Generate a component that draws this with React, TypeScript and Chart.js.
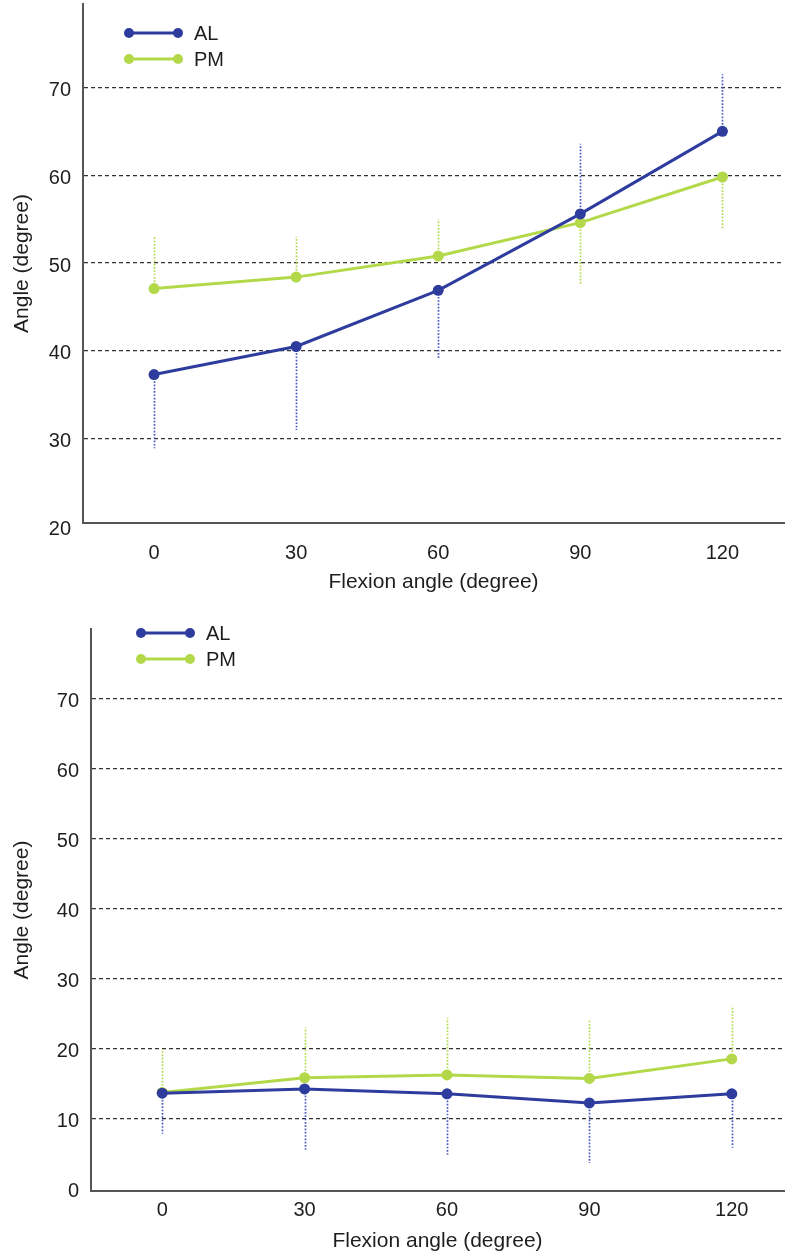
import React, { useEffect, useRef } from "react";
import { Chart, registerables } from "chart.js";

Chart.register(...registerables);

// ---------- data ----------
const FLEXION = [0, 30, 60, 90, 120];
const SERIES_LABELS = ["AL", "PM"];

const TOP_AL = [37.3, 40.5, 46.9, 55.6, 65.0];
const TOP_PM = [47.1, 48.4, 50.8, 54.6, 59.8];
const TOP_AL_ERR_END = [28.9, 31.0, 39.1, 63.6, 71.5];
const TOP_PM_ERR_END = [53.0, 53.0, 55.0, 47.5, 53.9];
const TOP_Y_TICKS = [20, 30, 40, 50, 60, 70];

const BOT_AL = [13.6, 14.2, 13.5, 12.2, 13.5];
const BOT_PM = [13.7, 15.8, 16.2, 15.7, 18.5];
const BOT_AL_ERR_END = [7.8, 5.5, 4.8, 3.6, 5.8];
const BOT_PM_ERR_END = [19.9, 23.0, 24.4, 24.1, 26.1];
const BOT_Y_TICKS = [0, 10, 20, 30, 40, 50, 60, 70];

const X_TITLE = "Flexion angle (degree)";
const Y_TITLE = "Angle (degree)";

// ---------- style ----------
const FONT = "'Liberation Sans', Arial, Helvetica, sans-serif";
const AL_COLOR = "#2e3d9d";
const PM_COLOR = "#b3d94a";
const AL_ERR_COLOR = "#4a5bc4";
const PM_ERR_COLOR = "#b2d94c";
const TEXT_COLOR = "#1e1e1e";
const AXIS_COLOR = "#555555";
const GRID_COLOR = "#333333";

const errorBarPlugin = {
  id: "errorBars",
  beforeDatasetsDraw(chart: any) {
    const { ctx, scales } = chart;
    const x = scales.x;
    const y = scales.y;
    chart.data.datasets.forEach((ds: any) => {
      const ends: number[] = ds.errEnds;
      if (!ends) return;
      ctx.save();
      ctx.strokeStyle = ds.errColor;
      ctx.lineWidth = 1.7;
      ctx.setLineDash([1.7, 1.6]);
      ds.data.forEach((pt: any, j: number) => {
        const px = Math.round(x.getPixelForValue(pt.x)) + 0.5;
        ctx.beginPath();
        ctx.moveTo(px, y.getPixelForValue(pt.y));
        ctx.lineTo(px, y.getPixelForValue(ends[j]));
        ctx.stroke();
      });
      ctx.restore();
    });
  },
};

const lineLegendPlugin = {
  id: "lineLegend",
  afterDraw(chart: any, _args: any, opts: any) {
    const { ctx, chartArea } = chart;
    ctx.save();
    chart.data.datasets.forEach((ds: any, i: number) => {
      const x0 = chartArea.left + opts.offsetX;
      const x1 = x0 + opts.lineLen;
      const yy = opts.y0 + i * opts.dy;
      ctx.strokeStyle = ds.borderColor;
      ctx.fillStyle = ds.borderColor;
      ctx.lineWidth = 3;
      ctx.beginPath();
      ctx.moveTo(x0, yy);
      ctx.lineTo(x1, yy);
      ctx.stroke();
      [x0, x1].forEach((cx) => {
        ctx.beginPath();
        ctx.arc(cx, yy, 5, 0, Math.PI * 2);
        ctx.fill();
      });
      ctx.fillStyle = TEXT_COLOR;
      ctx.font = `20px ${FONT}`;
      ctx.textBaseline = "middle";
      ctx.textAlign = "left";
      ctx.fillText(ds.label, x1 + opts.textGap, yy + 1);
    });
    ctx.restore();
  },
};

type PanelProps = {
  al: number[];
  pm: number[];
  alErr: number[];
  pmErr: number[];
  yTicks: number[];
  yMin: number;
  yMax: number;
  xMin: number;
  xMax: number;
  width: number;
  height: number;
  top: number;
  padTop: number;
  yAxisWidth: number;
  xAxisHeight: number;
  xTickPad: number;
  xTitlePad: number;
  yTitlePad: number;
  legendOffsetX: number;
};

function Panel(p: PanelProps) {
  const ref = useRef<HTMLCanvasElement | null>(null);
  useEffect(() => {
    if (!ref.current) return;
    const mk = (vals: number[]) => FLEXION.map((x, i) => ({ x, y: vals[i] }));
    const chart = new Chart(ref.current, {
      type: "line",
      data: {
        datasets: [
          {
            label: SERIES_LABELS[0],
            data: mk(p.al),
            borderColor: AL_COLOR,
            backgroundColor: AL_COLOR,
            borderWidth: 3,
            pointRadius: 5.5,
            pointBorderWidth: 0,
            pointBackgroundColor: AL_COLOR,
            tension: 0,
            errEnds: p.alErr,
            errColor: AL_ERR_COLOR,
          } as any,
          {
            label: SERIES_LABELS[1],
            data: mk(p.pm),
            borderColor: PM_COLOR,
            backgroundColor: PM_COLOR,
            borderWidth: 3,
            pointRadius: 5.5,
            pointBorderWidth: 0,
            pointBackgroundColor: PM_COLOR,
            tension: 0,
            errEnds: p.pmErr,
            errColor: PM_ERR_COLOR,
          } as any,
        ],
      },
      options: {
        responsive: false,
        animation: false,
        events: [],
        layout: { autoPadding: false, padding: { top: p.padTop, right: 1, bottom: 0, left: 0 } },
        plugins: {
          legend: { display: false },
          tooltip: { enabled: false },
          lineLegend: { offsetX: p.legendOffsetX, lineLen: 49, y0: 33, dy: 26, textGap: 16 },
        } as any,
        scales: {
          x: {
            type: "linear",
            min: p.xMin,
            max: p.xMax,
            afterBuildTicks: (s: any) => {
              s.ticks = FLEXION.map((v) => ({ value: v }));
            },
            afterFit: (s: any) => {
              s.height = p.xAxisHeight;
              s.paddingLeft = 0;
              s.paddingRight = 0;
              s.paddingTop = 0;
              s.paddingBottom = 0;
            },
            grid: { display: false, drawTicks: false },
            border: { display: true, color: AXIS_COLOR, width: 2 },
            ticks: {
              color: TEXT_COLOR,
              font: { family: FONT, size: 20 },
              padding: p.xTickPad,
              maxRotation: 0,
              autoSkip: false,
            },
            title: {
              display: true,
              text: X_TITLE,
              color: TEXT_COLOR,
              font: { family: FONT, size: 21 },
              padding: { top: 0, bottom: p.xTitlePad },
            },
          },
          y: {
            type: "linear",
            min: p.yMin,
            max: p.yMax,
            afterBuildTicks: (s: any) => {
              s.ticks = p.yTicks.map((v) => ({ value: v }));
            },
            afterFit: (s: any) => {
              s.width = p.yAxisWidth;
              s.paddingLeft = 0;
              s.paddingRight = 0;
              s.paddingTop = 0;
              s.paddingBottom = 0;
            },
            grid: {
              drawTicks: false,
              lineWidth: 1.3,
              color: (c: any) =>
                c.tick && c.tick.value === p.yTicks[0] ? "rgba(0,0,0,0)" : GRID_COLOR,
            },
            border: { display: true, color: AXIS_COLOR, width: 2, dash: [4, 3] },
            ticks: {
              color: TEXT_COLOR,
              font: { family: FONT, size: 20 },
              padding: 12,
              labelOffset: 3,
              autoSkip: false,
            },
            title: {
              display: true,
              text: Y_TITLE,
              color: TEXT_COLOR,
              font: { family: FONT, size: 21 },
              padding: { top: p.yTitlePad, bottom: 0 },
            },
          },
        },
      },
      plugins: [errorBarPlugin, lineLegendPlugin],
    });
    return () => chart.destroy();
  }, []);
  return (
    <canvas
      ref={ref}
      width={p.width}
      height={p.height}
      style={{ position: "absolute", left: 0, top: p.top, width: p.width, height: p.height }}
    />
  );
}

export default function App() {
  return (
    <div style={{ position: "absolute", left: 0, top: 0, width: 785, height: 1254, background: "#fff" }}>
      <Panel
        al={TOP_AL}
        pm={TOP_PM}
        alErr={TOP_AL_ERR_END}
        pmErr={TOP_PM_ERR_END}
        yTicks={TOP_Y_TICKS}
        yMin={20.4}
        yMax={79.5}
        xMin={-15}
        xMax={133}
        width={785}
        height={600}
        top={0}
        padTop={4}
        yAxisWidth={83}
        xAxisHeight={77}
        xTickPad={18}
        xTitlePad={5}
        yTitlePad={10}
        legendOffsetX={46}
      />
      <Panel
        al={BOT_AL}
        pm={BOT_PM}
        alErr={BOT_AL_ERR_END}
        pmErr={BOT_PM_ERR_END}
        yTicks={BOT_Y_TICKS}
        yMin={-0.4}
        yMax={80}
        xMin={-15}
        xMax={131}
        width={785}
        height={654}
        top={600}
        padTop={29}
        yAxisWidth={91}
        xAxisHeight={63}
        xTickPad={7.5}
        xTitlePad={0}
        yTitlePad={9.5}
        legendOffsetX={50}
      />
    </div>
  );
}
